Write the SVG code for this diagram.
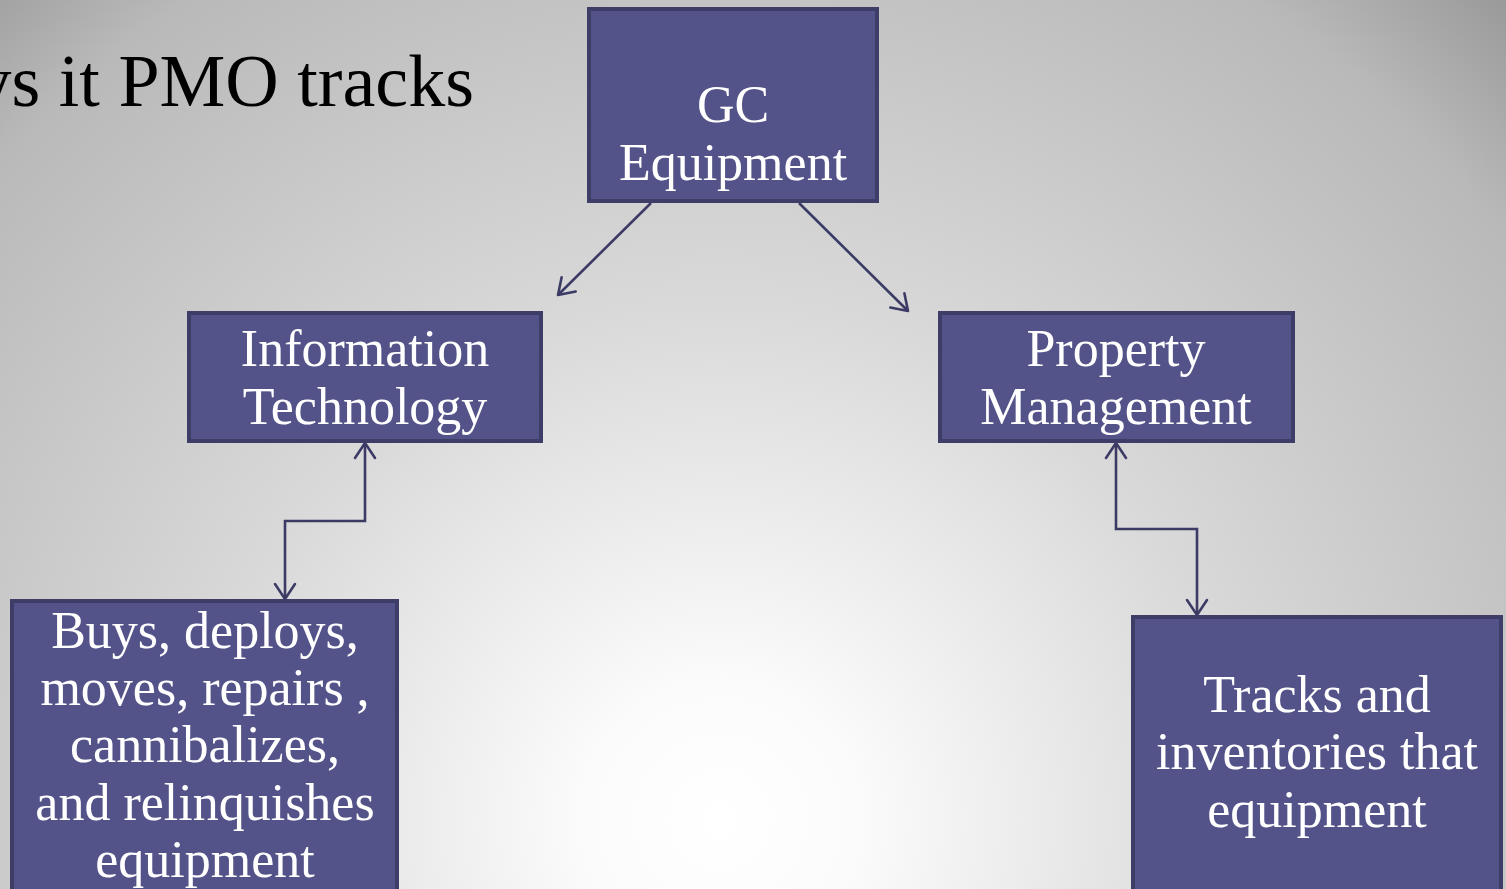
<svg xmlns="http://www.w3.org/2000/svg" width="1506" height="889" viewBox="0 0 1506 889">
  <defs>
    <radialGradient id="bg" gradientUnits="userSpaceOnUse" cx="720" cy="820" r="1150">
      <stop offset="0" stop-color="#ffffff"/>
      <stop offset="0.12" stop-color="#fbfbfb"/>
      <stop offset="0.45" stop-color="#d9d9d9"/>
      <stop offset="0.85" stop-color="#b9b9b9"/>
      <stop offset="1" stop-color="#979797"/>
    </radialGradient>
    <marker id="arrow" viewBox="0 0 24 24" refX="20" refY="12" markerWidth="24" markerHeight="24" markerUnits="userSpaceOnUse" orient="auto-start-reverse">
      <path d="M5,2 L20,12 L5,22" fill="none" stroke="#3b3b66" stroke-width="2.6" stroke-linecap="round" stroke-linejoin="round"/>
    </marker>
    <style>
      .box { fill: #535389; stroke: #3d3d68; stroke-width: 4; }
      .label { font-family: "Liberation Serif", "DejaVu Serif", serif; font-size: 52px; fill: #ffffff; text-anchor: middle; }
      .title { font-family: "Liberation Serif", "DejaVu Serif", serif; font-size: 74px; fill: #000000; text-anchor: end; }
      .conn { fill: none; stroke: #3b3b66; stroke-width: 2.6; }
    </style>
  </defs>

  <rect x="0" y="0" width="1506" height="889" fill="url(#bg)"/>

  <text class="title" x="474" y="106">ys it PMO tracks</text>

  <g id="connectors">
    <line class="conn" x1="651" y1="203" x2="558" y2="295" marker-end="url(#arrow)"/>
    <line class="conn" x1="799" y1="203" x2="908" y2="311" marker-end="url(#arrow)"/>
    <polyline class="conn" points="365,443 365,521 285,521 285,599" marker-start="url(#arrow)" marker-end="url(#arrow)"/>
    <polyline class="conn" points="1116,443 1116,529 1197,529 1197,615" marker-start="url(#arrow)" marker-end="url(#arrow)"/>
  </g>

  <g id="gc-equipment">
    <rect class="box" x="589" y="9" width="288" height="192"/>
    <text class="label" x="733" y="122">GC</text>
    <text class="label" x="733" y="180">Equipment</text>
  </g>

  <g id="information-technology">
    <rect class="box" x="189" y="313" width="352" height="128"/>
    <text class="label" x="365" y="366">Information</text>
    <text class="label" x="365" y="424">Technology</text>
  </g>

  <g id="property-management">
    <rect class="box" x="940" y="313" width="353" height="128"/>
    <text class="label" x="1116" y="366">Property</text>
    <text class="label" x="1116" y="424">Management</text>
  </g>

  <g id="it-duties">
    <rect class="box" x="12" y="601" width="385" height="300"/>
    <text class="label" x="205" y="648">Buys, deploys,</text>
    <text class="label" x="205" y="705">moves, repairs ,</text>
    <text class="label" x="205" y="762">cannibalizes,</text>
    <text class="label" x="205" y="820">and relinquishes</text>
    <text class="label" x="205" y="877">equipment</text>
  </g>

  <g id="pm-duties">
    <rect class="box" x="1133" y="617" width="368" height="290"/>
    <text class="label" x="1317" y="712">Tracks and</text>
    <text class="label" x="1317" y="769">inventories that</text>
    <text class="label" x="1317" y="827">equipment</text>
  </g>
</svg>
